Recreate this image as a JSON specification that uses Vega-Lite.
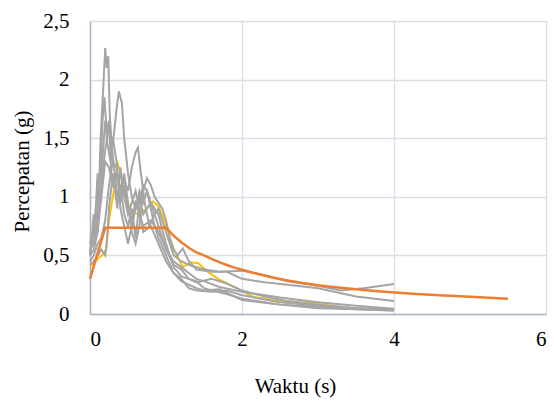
{
  "$schema": "https://vega.github.io/schema/vega-lite/v6.json",
  "width": 456,
  "height": 293,
  "autosize": "none",
  "padding": {"left": 90, "top": 21, "right": 8, "bottom": 87},
  "config": {
    "locale": {"number": {"decimal": ",", "thousands": ".", "grouping": [3], "currency": ["", " €"]}},
    "view": {"stroke": null},
    "font": "Times New Roman",
    "axis": {
      "labelFont": "Times New Roman", "titleFont": "Times New Roman",
      "labelFontSize": 21, "titleFontSize": 21, "titleFontWeight": 400,
      "gridColor": "#d9dde6", "gridWidth": 1.3,
      "domainColor": "#aab4c6", "domainWidth": 1.5, "tickOpacity": 0, "tickSize": 0
    }
  },
  "datasets": {
    "gray": [
      {"s":"G1","t":0,"a":0.52},{"s":"G1","t":0.05,"a":0.7},{"s":"G1","t":0.08,"a":0.95},{"s":"G1","t":0.1,"a":1.2},{"s":"G1","t":0.12,"a":1.1},{"s":"G1","t":0.14,"a":1.5},{"s":"G1","t":0.16,"a":1.75},{"s":"G1","t":0.18,"a":2.0},{"s":"G1","t":0.2,"a":2.27},{"s":"G1","t":0.22,"a":2.1},{"s":"G1","t":0.24,"a":2.2},{"s":"G1","t":0.26,"a":1.7},{"s":"G1","t":0.28,"a":1.5},{"s":"G1","t":0.3,"a":1.35},{"s":"G1","t":0.35,"a":1.05},{"s":"G1","t":0.4,"a":0.95},{"s":"G1","t":0.45,"a":1.1},{"s":"G1","t":0.5,"a":0.9},{"s":"G1","t":0.55,"a":0.8},{"s":"G1","t":0.6,"a":0.95},{"s":"G1","t":0.65,"a":0.85},{"s":"G1","t":0.7,"a":0.75},{"s":"G1","t":0.8,"a":0.8},{"s":"G1","t":0.9,"a":0.7},{"s":"G1","t":1.0,"a":0.55},{"s":"G1","t":1.1,"a":0.42},{"s":"G1","t":1.2,"a":0.38},{"s":"G1","t":1.3,"a":0.3},{"s":"G1","t":1.4,"a":0.28},{"s":"G1","t":1.5,"a":0.22},{"s":"G1","t":1.6,"a":0.2},{"s":"G1","t":1.8,"a":0.17},{"s":"G1","t":2.0,"a":0.13},{"s":"G1","t":2.5,"a":0.08},{"s":"G1","t":3.0,"a":0.06},{"s":"G1","t":3.5,"a":0.04},{"s":"G1","t":4.0,"a":0.03},
      {"s":"G2","t":0,"a":0.55},{"s":"G2","t":0.05,"a":0.6},{"s":"G2","t":0.1,"a":0.85},{"s":"G2","t":0.15,"a":1.1},{"s":"G2","t":0.2,"a":1.4},{"s":"G2","t":0.25,"a":1.6},{"s":"G2","t":0.3,"a":1.45},{"s":"G2","t":0.35,"a":1.75},{"s":"G2","t":0.38,"a":1.9},{"s":"G2","t":0.42,"a":1.8},{"s":"G2","t":0.45,"a":1.5},{"s":"G2","t":0.5,"a":1.2},{"s":"G2","t":0.55,"a":1.0},{"s":"G2","t":0.6,"a":0.9},{"s":"G2","t":0.65,"a":1.05},{"s":"G2","t":0.7,"a":0.95},{"s":"G2","t":0.75,"a":1.05},{"s":"G2","t":0.8,"a":0.95},{"s":"G2","t":0.85,"a":0.85},{"s":"G2","t":0.9,"a":0.75},{"s":"G2","t":1.0,"a":0.55},{"s":"G2","t":1.1,"a":0.45},{"s":"G2","t":1.2,"a":0.4},{"s":"G2","t":1.3,"a":0.35},{"s":"G2","t":1.4,"a":0.3},{"s":"G2","t":1.5,"a":0.28},{"s":"G2","t":1.7,"a":0.23},{"s":"G2","t":2.0,"a":0.19},{"s":"G2","t":2.5,"a":0.14},{"s":"G2","t":3.0,"a":0.1},{"s":"G2","t":3.5,"a":0.07},{"s":"G2","t":4.0,"a":0.045},
      {"s":"G3","t":0,"a":0.5},{"s":"G3","t":0.05,"a":0.55},{"s":"G3","t":0.1,"a":0.7},{"s":"G3","t":0.15,"a":1.0},{"s":"G3","t":0.2,"a":1.3},{"s":"G3","t":0.25,"a":1.25},{"s":"G3","t":0.3,"a":1.1},{"s":"G3","t":0.35,"a":1.2},{"s":"G3","t":0.4,"a":1.0},{"s":"G3","t":0.45,"a":1.15},{"s":"G3","t":0.5,"a":1.05},{"s":"G3","t":0.55,"a":1.25},{"s":"G3","t":0.6,"a":1.38},{"s":"G3","t":0.63,"a":1.42},{"s":"G3","t":0.67,"a":1.2},{"s":"G3","t":0.72,"a":0.95},{"s":"G3","t":0.78,"a":0.75},{"s":"G3","t":0.85,"a":0.85},{"s":"G3","t":0.9,"a":0.9},{"s":"G3","t":1.0,"a":0.7},{"s":"G3","t":1.1,"a":0.5},{"s":"G3","t":1.2,"a":0.45},{"s":"G3","t":1.3,"a":0.42},{"s":"G3","t":1.5,"a":0.38},{"s":"G3","t":1.7,"a":0.36},{"s":"G3","t":2.0,"a":0.37},{"s":"G3","t":2.3,"a":0.33},{"s":"G3","t":2.6,"a":0.28},{"s":"G3","t":3.0,"a":0.24},{"s":"G3","t":3.3,"a":0.2},{"s":"G3","t":3.6,"a":0.22},{"s":"G3","t":4.0,"a":0.255},
      {"s":"G4","t":0,"a":0.45},{"s":"G4","t":0.05,"a":0.5},{"s":"G4","t":0.1,"a":0.6},{"s":"G4","t":0.15,"a":0.65},{"s":"G4","t":0.2,"a":0.8},{"s":"G4","t":0.25,"a":1.1},{"s":"G4","t":0.3,"a":1.3},{"s":"G4","t":0.35,"a":1.25},{"s":"G4","t":0.4,"a":1.05},{"s":"G4","t":0.45,"a":1.2},{"s":"G4","t":0.5,"a":0.95},{"s":"G4","t":0.55,"a":0.7},{"s":"G4","t":0.6,"a":0.6},{"s":"G4","t":0.65,"a":0.75},{"s":"G4","t":0.7,"a":1.05},{"s":"G4","t":0.75,"a":1.16},{"s":"G4","t":0.8,"a":1.1},{"s":"G4","t":0.85,"a":1.0},{"s":"G4","t":0.9,"a":0.95},{"s":"G4","t":0.95,"a":0.9},{"s":"G4","t":1.0,"a":0.8},{"s":"G4","t":1.05,"a":0.65},{"s":"G4","t":1.1,"a":0.55},{"s":"G4","t":1.15,"a":0.5},{"s":"G4","t":1.22,"a":0.56},{"s":"G4","t":1.3,"a":0.45},{"s":"G4","t":1.4,"a":0.38},{"s":"G4","t":1.6,"a":0.36},{"s":"G4","t":1.8,"a":0.36},{"s":"G4","t":2.0,"a":0.3},{"s":"G4","t":2.3,"a":0.27},{"s":"G4","t":2.6,"a":0.25},{"s":"G4","t":3.0,"a":0.22},{"s":"G4","t":3.5,"a":0.15},{"s":"G4","t":4.0,"a":0.11},
      {"s":"G5","t":0,"a":0.6},{"s":"G5","t":0.05,"a":0.75},{"s":"G5","t":0.08,"a":0.65},{"s":"G5","t":0.1,"a":1.15},{"s":"G5","t":0.13,"a":0.9},{"s":"G5","t":0.16,"a":1.6},{"s":"G5","t":0.19,"a":1.85},{"s":"G5","t":0.22,"a":1.55},{"s":"G5","t":0.25,"a":1.65},{"s":"G5","t":0.28,"a":1.2},{"s":"G5","t":0.32,"a":1.1},{"s":"G5","t":0.36,"a":0.9},{"s":"G5","t":0.4,"a":1.25},{"s":"G5","t":0.45,"a":1.0},{"s":"G5","t":0.5,"a":0.85},{"s":"G5","t":0.55,"a":0.95},{"s":"G5","t":0.6,"a":1.05},{"s":"G5","t":0.65,"a":0.9},{"s":"G5","t":0.7,"a":0.7},{"s":"G5","t":0.8,"a":0.75},{"s":"G5","t":0.9,"a":0.6},{"s":"G5","t":1.0,"a":0.45},{"s":"G5","t":1.1,"a":0.35},{"s":"G5","t":1.2,"a":0.3},{"s":"G5","t":1.3,"a":0.22},{"s":"G5","t":1.4,"a":0.2},{"s":"G5","t":1.6,"a":0.19},{"s":"G5","t":1.8,"a":0.2},{"s":"G5","t":2.0,"a":0.16},{"s":"G5","t":2.5,"a":0.1},{"s":"G5","t":3.0,"a":0.07},{"s":"G5","t":3.5,"a":0.05},{"s":"G5","t":4.0,"a":0.04},
      {"s":"G6","t":0,"a":0.42},{"s":"G6","t":0.05,"a":0.45},{"s":"G6","t":0.1,"a":0.5},{"s":"G6","t":0.15,"a":0.55},{"s":"G6","t":0.2,"a":0.5},{"s":"G6","t":0.22,"a":0.6},{"s":"G6","t":0.25,"a":0.9},{"s":"G6","t":0.3,"a":1.2},{"s":"G6","t":0.35,"a":1.0},{"s":"G6","t":0.4,"a":1.1},{"s":"G6","t":0.45,"a":0.85},{"s":"G6","t":0.5,"a":0.75},{"s":"G6","t":0.55,"a":0.9},{"s":"G6","t":0.6,"a":0.65},{"s":"G6","t":0.65,"a":0.95},{"s":"G6","t":0.7,"a":1.1},{"s":"G6","t":0.75,"a":1.05},{"s":"G6","t":0.8,"a":0.9},{"s":"G6","t":0.85,"a":0.75},{"s":"G6","t":0.9,"a":0.65},{"s":"G6","t":1.0,"a":0.5},{"s":"G6","t":1.1,"a":0.35},{"s":"G6","t":1.2,"a":0.28},{"s":"G6","t":1.3,"a":0.25},{"s":"G6","t":1.4,"a":0.22},{"s":"G6","t":1.5,"a":0.2},{"s":"G6","t":1.7,"a":0.21},{"s":"G6","t":2.0,"a":0.12},{"s":"G6","t":2.5,"a":0.08},{"s":"G6","t":3.0,"a":0.05},{"s":"G6","t":3.5,"a":0.04},{"s":"G6","t":4.0,"a":0.03},
      {"s":"G7","t":0,"a":0.5},{"s":"G7","t":0.05,"a":0.85},{"s":"G7","t":0.1,"a":0.7},{"s":"G7","t":0.15,"a":1.2},{"s":"G7","t":0.2,"a":1.65},{"s":"G7","t":0.23,"a":1.45},{"s":"G7","t":0.27,"a":1.3},{"s":"G7","t":0.3,"a":1.5},{"s":"G7","t":0.35,"a":1.3},{"s":"G7","t":0.4,"a":0.9},{"s":"G7","t":0.45,"a":0.75},{"s":"G7","t":0.5,"a":0.6},{"s":"G7","t":0.55,"a":0.75},{"s":"G7","t":0.6,"a":0.9},{"s":"G7","t":0.65,"a":1.0},{"s":"G7","t":0.7,"a":0.85},{"s":"G7","t":0.8,"a":0.95},{"s":"G7","t":0.9,"a":0.85},{"s":"G7","t":1.0,"a":0.6},{"s":"G7","t":1.1,"a":0.4},{"s":"G7","t":1.2,"a":0.32},{"s":"G7","t":1.3,"a":0.3},{"s":"G7","t":1.4,"a":0.27},{"s":"G7","t":1.6,"a":0.3},{"s":"G7","t":1.8,"a":0.26},{"s":"G7","t":2.0,"a":0.2},{"s":"G7","t":2.3,"a":0.15},{"s":"G7","t":2.6,"a":0.11},{"s":"G7","t":3.0,"a":0.08},{"s":"G7","t":3.5,"a":0.05},{"s":"G7","t":4.0,"a":0.035}
    ],
    "yellow": [
      {"t":0,"a":0.42},{"t":0.04,"a":0.42},{"t":0.1,"a":0.47},{"t":0.16,"a":0.5},{"t":0.21,"a":0.55},{"t":0.25,"a":0.8},{"t":0.3,"a":1.0},{"t":0.34,"a":1.15},{"t":0.36,"a":1.3},{"t":0.4,"a":1.2},{"t":0.45,"a":1.05},{"t":0.53,"a":0.89},{"t":0.63,"a":0.85},{"t":0.75,"a":0.9},{"t":0.83,"a":0.96},{"t":0.9,"a":0.92},{"t":0.99,"a":0.78},{"t":1.09,"a":0.57},{"t":1.16,"a":0.48},{"t":1.22,"a":0.4},{"t":1.32,"a":0.44},{"t":1.42,"a":0.435},{"t":1.55,"a":0.36},{"t":1.71,"a":0.29},{"t":1.93,"a":0.22},{"t":2.15,"a":0.145},{"t":2.41,"a":0.12},{"t":2.76,"a":0.1},{"t":2.9,"a":0.095},{"t":3.42,"a":0.05},{"t":4.0,"a":0.035}
    ],
    "orange": [
      {"t":0,"a":0.3},{"t":0.2,"a":0.735},{"t":1.0,"a":0.735},{"t":1.1,"a":0.668},{"t":1.2,"a":0.612},{"t":1.3,"a":0.565},{"t":1.4,"a":0.525},{"t":1.5,"a":0.5},{"t":1.6,"a":0.47},{"t":1.7,"a":0.443},{"t":1.8,"a":0.418},{"t":1.9,"a":0.396},{"t":2.0,"a":0.378},{"t":2.2,"a":0.343},{"t":2.4,"a":0.312},{"t":2.6,"a":0.285},{"t":2.8,"a":0.264},{"t":3.0,"a":0.246},{"t":3.2,"a":0.231},{"t":3.4,"a":0.218},{"t":3.6,"a":0.205},{"t":3.8,"a":0.194},{"t":4.0,"a":0.184},{"t":4.3,"a":0.171},{"t":4.6,"a":0.16},{"t":5.0,"a":0.147},{"t":5.5,"a":0.13}
    ]
  },
  "encoding": {
    "x": {
      "field": "t", "type": "quantitative",
      "scale": {"domain": [0, 6], "nice": false},
      "axis": {
        "values": [0, 2, 4, 6], "format": "~g", "title": "Waktu (s)",
        "labelFont": "Times New Roman", "titleFont": "Times New Roman",
        "labelPadding": 14, "titleX": 205, "titleY": 78, "titleAlign": "center", "titleBaseline": "alphabetic"
      }
    },
    "y": {
      "field": "a", "type": "quantitative",
      "scale": {"domain": [0, 2.5], "nice": false},
      "axis": {
        "values": [0, 0.5, 1, 1.5, 2, 2.5], "format": "~g", "title": "Percepatan (g)",
        "labelFont": "Times New Roman", "titleFont": "Times New Roman",
        "labelPadding": 21, "titleX": -68, "titleY": 150, "titleAlign": "center", "titleBaseline": "middle", "titleAngle": -90
      }
    }
  },
  "layer": [
    {"data": {"name": "yellow"}, "mark": {"type": "line", "color": "#ffc000", "strokeWidth": 2}},
    {"data": {"name": "gray"}, "mark": {"type": "line", "color": "#a5a5a5", "strokeWidth": 2},
     "encoding": {"detail": {"field": "s", "type": "nominal"}}},
    {"data": {"name": "orange"}, "mark": {"type": "line", "color": "#ed7d31", "strokeWidth": 2.5}}
  ]
}
